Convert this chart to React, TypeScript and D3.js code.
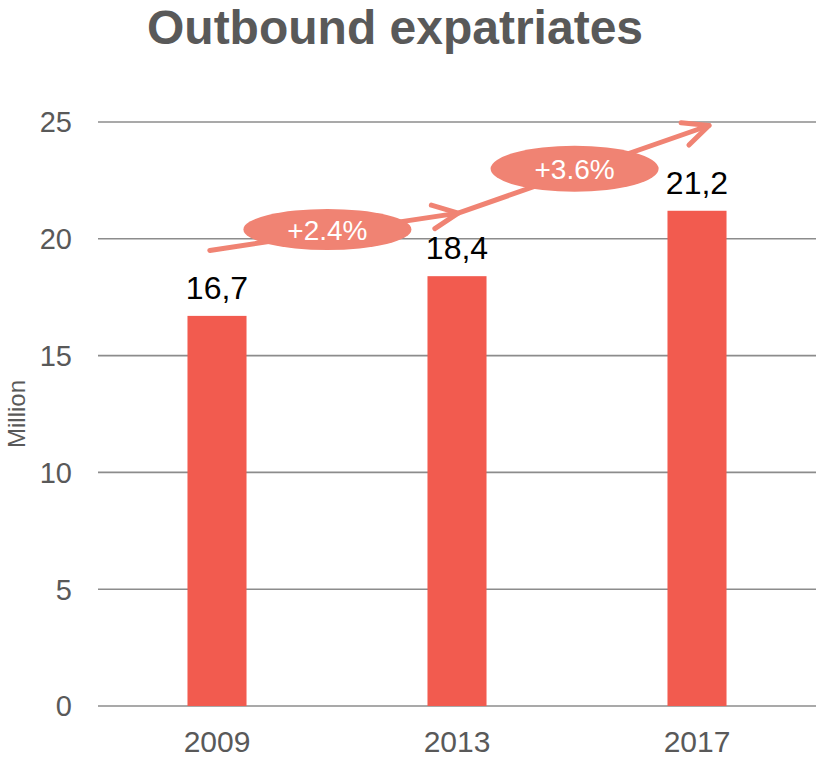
import React from "react";
import * as d3 from "d3";

const categories = ["2009", "2013", "2017"];
const values = [16.7, 18.4, 21.2];
const valueLabels = ["16,7", "18,4", "21,2"];
const yTicks = [0, 5, 10, 15, 20, 25];
const growthLabels = ["+2.4%", "+3.6%"];
// growth bubble centres: [category index position, value]
const bubblePos: [number, number][] = [
  [0.46, 20.4],
  [1.49, 23.0],
];
// arrow path points: [category index position, value]
const arrowPts: [number, number][] = [
  [-0.03, 19.5],
  [1.005, 21.1],
  [2.05, 24.85],
];

const W = 816;
const H = 759;
const BAR = "#F25B4F";
const ARROW = "#F08373";
const GREY = "#595959";
const GRID = "#8C8C8C";
const FONT = "'Liberation Sans', Arial, Helvetica, sans-serif";

export default function App() {
  const x = d3
    .scaleBand<string>()
    .domain(categories)
    .range([97, 817])
    .paddingInner(0.754)
    .paddingOuter(0.377);
  const y = d3.scaleLinear().domain([0, 25]).range([706, 122]);
  const step = x.step();
  const cx = (i: number) => (x(categories[0]) as number) + x.bandwidth() / 2 + i * step;

  const pts = arrowPts.map(([i, v]) => [cx(i), y(v)] as [number, number]);
  const line = d3.line();
  const head = (tip: [number, number], from: [number, number]) => {
    const ang = Math.atan2(from[1] - tip[1], from[0] - tip[0]);
    const L = 28;
    const a = (25 * Math.PI) / 180;
    const p1: [number, number] = [tip[0] + L * Math.cos(ang + a), tip[1] + L * Math.sin(ang + a)];
    const p2: [number, number] = [tip[0] + L * Math.cos(ang - a), tip[1] + L * Math.sin(ang - a)];
    return line([p1, tip, p2]) as string;
  };

  return (
    <div style={{ position: "absolute", left: 0, top: 0 }}>
      <svg width={W} height={H} style={{ display: "block", background: "#fff" }}>
        <text
          x={395}
          y={44}
          textAnchor="middle"
          fontFamily={FONT}
          fontWeight="bold"
          fontSize={48}
          fill={GREY}
        >
          Outbound expatriates
        </text>
        {yTicks.map((t) => (
          <g key={t}>
            <line x1={98} x2={816} y1={y(t)} y2={y(t)} stroke={GRID} strokeWidth={1.6} />
            <text
              x={72}
              y={y(t)}
              dy="0.36em"
              textAnchor="end"
              fontFamily={FONT}
              fontSize={29}
              fill={GREY}
            >
              {t}
            </text>
          </g>
        ))}
        <text
          transform={`translate(${25},${414}) rotate(-90)`}
          textAnchor="middle"
          fontFamily={FONT}
          fontSize={24}
          fill={GREY}
        >
          Million
        </text>
        {categories.map((c, i) => (
          <g key={c}>
            <rect
              x={x(c)}
              y={y(values[i])}
              width={x.bandwidth()}
              height={y(0) - y(values[i])}
              fill={BAR}
            />
            <text
              x={(x(c) as number) + x.bandwidth() / 2}
              y={y(values[i]) - 17}
              textAnchor="middle"
              fontFamily={FONT}
              fontSize={32}
              fill="#000"
            >
              {valueLabels[i]}
            </text>
            <text
              x={(x(c) as number) + x.bandwidth() / 2}
              y={752}
              textAnchor="middle"
              fontFamily={FONT}
              fontSize={30}
              fill={GREY}
            >
              {c}
            </text>
          </g>
        ))}
        <path
          d={line(pts) as string}
          fill="none"
          stroke={ARROW}
          strokeWidth={5}
          strokeLinejoin="round"
          strokeLinecap="round"
        />
        <path d={head(pts[1], pts[0])} fill="none" stroke={ARROW} strokeWidth={5} strokeLinecap="round" strokeLinejoin="round" />
        <path d={head(pts[2], pts[1])} fill="none" stroke={ARROW} strokeWidth={5} strokeLinecap="round" strokeLinejoin="round" />
        {growthLabels.map((g, i) => {
          const px = cx(bubblePos[i][0]);
          const py = y(bubblePos[i][1]);
          return (
            <g key={g}>
              <ellipse cx={px} cy={py} rx={84} ry={i === 0 ? 20.5 : 23} fill={ARROW} />
              <text
                x={px}
                y={py}
                dy="0.36em"
                textAnchor="middle"
                fontFamily={FONT}
                fontSize={28}
                fill="#fff"
              >
                {g}
              </text>
            </g>
          );
        })}
      </svg>
    </div>
  );
}
